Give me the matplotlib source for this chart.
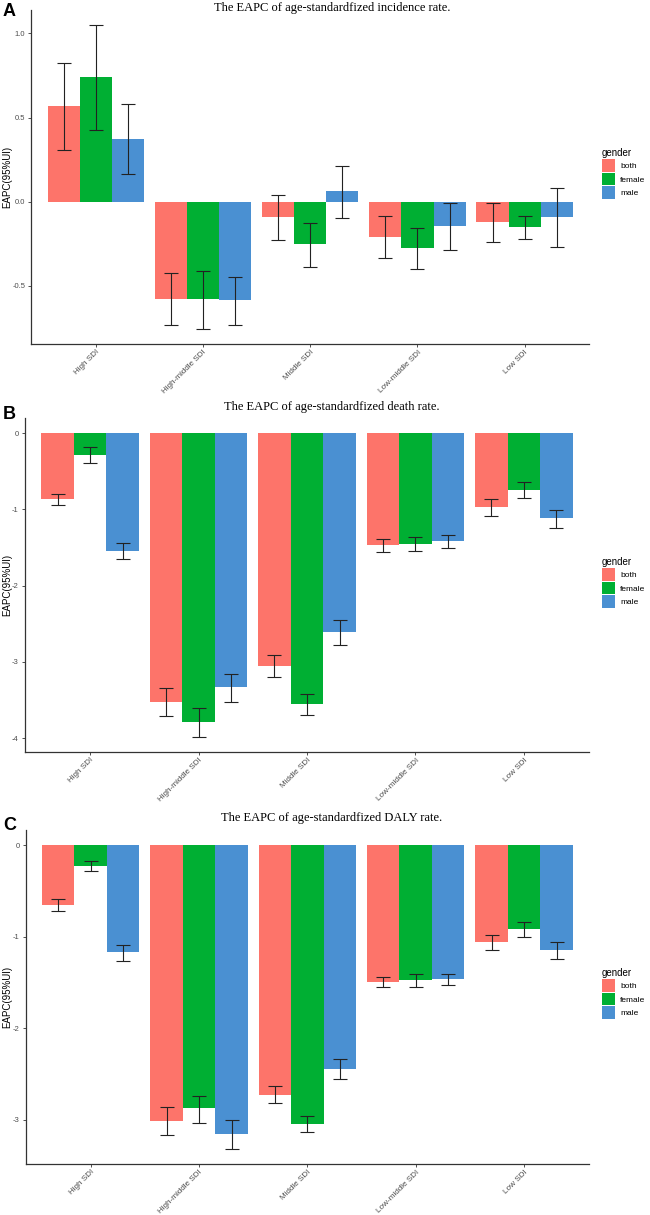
import matplotlib
matplotlib.use("Agg")
import matplotlib.pyplot as plt
from matplotlib.patches import Patch
import numpy as np

plt.rcParams['axes.unicode_minus'] = False
plt.rcParams['font.family'] = ['Liberation Sans', 'DejaVu Sans']

categories = ["High SDI", "High-middle SDI", "Middle SDI", "Low-middle SDI", "Low SDI"]
genders = ["both", "female", "male"]
colors = ["#FD746A", "#00AF33", "#4A90D2"]

# Panel A: incidence
inc_val = {
    "both":   [0.567, -0.575, -0.093, -0.208, -0.121],
    "female": [0.739, -0.579, -0.251, -0.275, -0.152],
    "male":   [0.372, -0.585, 0.061, -0.144, -0.093],
}
inc_lo = {
    "both":   [0.308, -0.735, -0.225, -0.334, -0.237],
    "female": [0.429, -0.755, -0.385, -0.397, -0.221],
    "male":   [0.164, -0.731, -0.097, -0.289, -0.269],
}
inc_hi = {
    "both":   [0.822, -0.421, 0.038, -0.085, -0.010],
    "female": [1.049, -0.409, -0.125, -0.156, -0.085],
    "male":   [0.579, -0.449, 0.215, -0.010, 0.081],
}

# Panel B: death
dea_val = {
    "both":   [-0.869, -3.520, -3.048, -1.463, -0.974],
    "female": [-0.284, -3.786, -3.550, -1.450, -0.747],
    "male":   [-1.546, -3.332, -2.607, -1.415, -1.118],
}
dea_lo = {
    "both":   [-0.943, -3.716, -3.201, -1.559, -1.092],
    "female": [-0.389, -3.983, -3.703, -1.550, -0.856],
    "male":   [-1.655, -3.524, -2.782, -1.507, -1.245],
}
dea_hi = {
    "both":   [-0.795, -3.341, -2.913, -1.393, -0.869],
    "female": [-0.183, -3.611, -3.419, -1.358, -0.646],
    "male":   [-1.437, -3.162, -2.450, -1.332, -1.013],
}

# Panel C: DALY
daly_val = {
    "both":   [-0.648, -3.007, -2.723, -1.493, -1.052],
    "female": [-0.222, -2.872, -3.047, -1.471, -0.917],
    "male":   [-1.169, -3.153, -2.439, -1.463, -1.147],
}
daly_lo = {
    "both":   [-0.721, -3.167, -2.821, -1.554, -1.143],
    "female": [-0.280, -3.029, -3.134, -1.547, -1.007],
    "male":   [-1.267, -3.316, -2.552, -1.525, -1.238],
}
daly_hi = {
    "both":   [-0.590, -2.861, -2.632, -1.445, -0.979],
    "female": [-0.178, -2.734, -2.956, -1.405, -0.834],
    "male":   [-1.085, -2.996, -2.337, -1.412, -1.056],
}

titles = ["The EAPC of age-standardfized incidence rate.",
          "The EAPC of age-standardfized death rate.",
          "The EAPC of age-standardfized DALY rate."]
letters = ["A", "B", "C"]
yticks_list = [[-0.5, 0.0, 0.5, 1.0], [-4, -3, -2, -1, 0], [-3, -2, -1, 0]]
ytick_labels_list = [["-0.5", "0.0", "0.5", "1.0"],
                     ["-4", "-3", "-2", "-1", "0"],
                     ["-3", "-2", "-1", "0"]]

W, H = 650, 1215
fig = plt.figure(figsize=(W / 100, H / 100), dpi=100)

# axes boxes in pixels: left, right, top, bottom
boxes = [(31.5, 589, 10, 344), (25, 589, 418, 752), (25.7, 589, 830, 1164)]
title_y = [8, 407, 818]
letter_y = [12, 414, 826]
legend_top = [148, 557, 968]

datasets = [(inc_val, inc_lo, inc_hi), (dea_val, dea_lo, dea_hi), (daly_val, daly_lo, daly_hi)]

axis_col = "#333333"
tick_col = "#4D4D4D"

for p in range(3):
    vals, los, his = datasets[p]
    l, r, t, b = boxes[p]
    ax = fig.add_axes([l / W, 1 - b / H, (r - l) / W, (b - t) / H])
    x = np.arange(1, len(categories) + 1)
    bw = 0.3
    allv = [0.0]
    for j, g in enumerate(genders):
        xs = x + (j - 1) * bw
        v = np.array(vals[g]); lo = np.array(los[g]); hi = np.array(his[g])
        ax.bar(xs, v, width=bw, color=colors[j], edgecolor='none', zorder=2)
        ax.errorbar(xs, v, yerr=[v - lo, hi - v], fmt='none', ecolor='#222222',
                    elinewidth=0.8, capsize=5.0, capthick=0.8, zorder=3)
        allv += list(v) + list(lo) + list(hi)
    lo_, hi_ = min(allv), max(allv)
    pad = 0.05 * (hi_ - lo_)
    ax.set_ylim(lo_ - pad, hi_ + pad)
    ax.set_xlim(0.4, len(categories) + 0.6)
    ax.set_xticks(x)
    ax.set_xticklabels(categories, rotation=45, ha='right', va='top',
                       rotation_mode='anchor', fontsize=5.9, color=tick_col)
    ax.set_yticks(yticks_list[p])
    ax.set_yticklabels(ytick_labels_list[p], fontsize=5.5, color=tick_col)
    ax.tick_params(axis='both', length=2.5, width=0.6, color=axis_col, pad=2)
    ax.tick_params(axis='x', pad=0.8)
    for s in ['top', 'right']:
        ax.spines[s].set_visible(False)
    for s in ['left', 'bottom']:
        ax.spines[s].set_color(axis_col)
        ax.spines[s].set_linewidth(0.9)

    # y label
    fig.text(7 / W, 1 - ((t + b) / 2) / H, "EAPC(95%UI)", rotation=90,
             ha='center', va='center', fontsize=7, color='black')
    # title
    fig.text(332 / W, 1 - title_y[p] / H, titles[p], ha='center', va='center',
             fontsize=9, family=['Liberation Serif', 'DejaVu Serif'])
    # panel letter
    fig.text(3 / W, 1 - letter_y[p] / H, letters[p], ha='left', va='center',
             fontsize=13, fontweight='bold')

    handles = [Patch(facecolor=colors[j], edgecolor='none', label=g) for j, g in enumerate(genders)]
    leg = fig.legend(handles=handles, title="gender", loc='upper left',
                     bbox_to_anchor=(602 / W, 1 - legend_top[p] / H),
                     frameon=False, fontsize=6, title_fontsize=7,
                     handlelength=1.6, handleheight=1.9, labelspacing=0.15,
                     handletextpad=0.6, borderaxespad=0, borderpad=0,
                     alignment='left')

fig.savefig("out.png", dpi=100)
